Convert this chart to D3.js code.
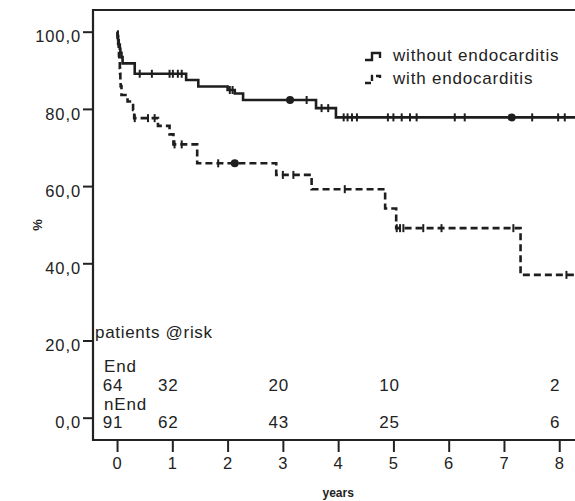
<!DOCTYPE html>
<html>
<head>
	<meta charset="utf-8">
	<title>Kaplan-Meier endocarditis</title>
	<script src="https://d3js.org/d3.v7.min.js"></script>
	<style>
		body { margin: 0; background: #fff; }
		text { font-family: "Liberation Sans", Arial, sans-serif; fill: #222; }
	</style>
</head>
<body>
	<div id="chart"></div>

	<script>
		// Survival steps (years, %)
		const nEndTimes = [0, 0.01, 0.02, 0.03, 0.05, 0.06, 0.08, 0.1, 0.32, 1.25, 1.47, 2.0, 2.13, 2.28, 3.6, 3.96];
		const nEndSurv  = [100, 98.9, 97.8, 96.7, 95.6, 94.5, 93.4, 91.8, 89.1, 87.5, 85.8, 84.9, 84.0, 82.3, 80.2, 77.8];
		const nEndCensor = [0.41, 0.63, 0.95, 1.01, 1.10, 1.17, 2.04, 2.09, 3.43, 3.70, 3.82, 4.10, 4.17, 4.25, 4.34,
			4.90, 5.0, 5.15, 5.30, 5.42, 6.11, 6.29, 7.51, 7.98, 8.10];
		const nEndDots = [3.13, 7.14];

		const endTimes = [0, 0.01, 0.02, 0.03, 0.035, 0.04, 0.05, 0.055, 0.06, 0.065, 0.08, 0.19, 0.29, 0.31, 0.74, 0.95, 1.02, 1.45, 2.88, 3.52, 4.85, 5.05, 7.3];
		const endSurv  = [100, 98.4, 96.9, 95.3, 93.8, 92.2, 90.6, 89.1, 87.5, 85.9, 83.6, 81.9, 79.7, 77.6, 75.6, 73.4, 70.8, 65.9, 62.9, 59.2, 54.2, 49.1, 37.0];
		const endCensor = [0.32, 0.56, 0.68, 1.04, 1.17, 1.83, 3.0, 3.19, 4.12, 5.06, 5.12, 5.18, 5.54, 5.87, 7.17, 8.13];
		const endDots = [2.13];

		// ticks and risk table
		const xTicks = [0, 1, 2, 3, 4, 5, 6, 7, 8];
		const yTicks = [0, 20, 40, 60, 80, 100];
		const riskYears = [0, 1, 3, 5, 8];
		const riskEnd = [64, 32, 20, 10, 2];
		const riskNEnd = [91, 62, 43, 25, 6];

		const W = 575, H = 501;
		const pLeft = 93, pRight = 575, pTop = 10, pBottom = 440;

		const svg = d3.select("#chart")
			.append("svg")
			.attr("width", W)
			.attr("height", H);

		const x = d3.scaleLinear().domain([-0.435, 8.285]).range([pLeft, pRight]);
		const y = d3.scaleLinear().domain([-5.78, 105.62]).range([pBottom, pTop]);

		// frame: left, bottom, top
		svg.append("path")
			.attr("d", `M${pRight},${pTop}H${pLeft}V${pBottom}H${pRight}`)
			.attr("fill", "none")
			.attr("stroke", "#222")
			.attr("stroke-width", 2.2);

		// axes
		const xAxis = svg.append("g")
			.attr("transform", `translate(0,${pBottom})`)
			.call(d3.axisBottom(x).tickValues(xTicks).tickSize(12).tickPadding(5).tickFormat(d3.format("d")));
		xAxis.select(".domain").remove();
		xAxis.selectAll("line").attr("stroke", "#222").attr("stroke-width", 2);
		xAxis.selectAll("text").attr("font-size", 16.5).attr("letter-spacing", 1).attr("fill", "#222")
			.attr("font-family", "Liberation Sans, Arial, sans-serif");

		const yAxis = svg.append("g")
			.attr("transform", `translate(${pLeft},0)`)
			.call(d3.axisLeft(y).tickValues(yTicks).tickSize(10).tickPadding(2).tickFormat(d => d.toFixed(1).replace(".", ",")));
		yAxis.select(".domain").remove();
		yAxis.selectAll("line").attr("stroke", "#222").attr("stroke-width", 2);
		yAxis.selectAll("text").attr("font-size", 16.5).attr("letter-spacing", 0.9).attr("fill", "#222")
			.attr("dy", "0.62em")
			.attr("font-family", "Liberation Sans, Arial, sans-serif");

		// axis titles
		svg.append("text")
			.attr("transform", `translate(42,${(pTop + pBottom) / 2}) rotate(-90)`)
			.attr("text-anchor", "middle")
			.attr("font-size", 13)
			.attr("font-weight", "bold")
			.text("%");
		svg.append("text")
			.attr("x", x(4))
			.attr("y", 497)
			.attr("text-anchor", "middle")
			.attr("font-size", 12)
			.attr("font-weight", "bold")
			.text("years");

		// curves
		const xMax = x.domain()[1];
		function stepData(times, surv) {
			const pts = times.map((t, i) => [t, surv[i]]);
			pts.push([xMax, surv[surv.length - 1]]);
			return pts;
		}
		function survAt(times, surv, t) {
			const i = d3.bisectRight(times, t) - 1;
			return surv[Math.max(0, i)];
		}
		const line = d3.line()
			.x(d => x(d[0]))
			.y(d => y(d[1]))
			.curve(d3.curveStepAfter);

		const groups = [
			{ times: nEndTimes, surv: nEndSurv, censor: nEndCensor, dots: nEndDots, dash: null },
			{ times: endTimes, surv: endSurv, censor: endCensor, dots: endDots, dash: "7,4" }
		];

		groups.forEach(g => {
			svg.append("path")
				.datum(stepData(g.times, g.surv))
				.attr("d", line)
				.attr("fill", "none")
				.attr("stroke", "#1e1e1e")
				.attr("stroke-width", 2.6)
				.attr("stroke-dasharray", g.dash);

			svg.selectAll(null)
				.data(g.censor)
				.enter()
				.append("line")
				.attr("x1", d => x(d))
				.attr("x2", d => x(d))
				.attr("y1", d => y(survAt(g.times, g.surv, d)) - 4)
				.attr("y2", d => y(survAt(g.times, g.surv, d)) + 4)
				.attr("stroke", "#1e1e1e")
				.attr("stroke-width", 2);

			svg.selectAll(null)
				.data(g.dots)
				.enter()
				.append("circle")
				.attr("cx", d => x(d))
				.attr("cy", d => y(survAt(g.times, g.surv, d)))
				.attr("r", 4)
				.attr("fill", "#1e1e1e");
		});

		// legend
		const legend = [
			{ label: "without endocarditis", y: 61, dash: null },
			{ label: "with endocarditis", y: 84, dash: "6,3" }
		];
		legend.forEach(l => {
			svg.append("path")
				.attr("d", `M365,${l.y - 1}H372V${l.y - 8}H380V${l.y - 3}`)
				.attr("fill", "none")
				.attr("stroke", "#1e1e1e")
				.attr("stroke-width", 2.4)
				.attr("stroke-dasharray", l.dash);
			svg.append("text")
				.attr("x", 393)
				.attr("y", l.y)
				.attr("font-size", 17)
				.attr("letter-spacing", 0.8)
				.text(l.label);
		});

		// patients at risk table
		svg.append("text")
			.attr("x", 95)
			.attr("y", 338)
			.attr("font-size", 17)
			.attr("letter-spacing", 0.7)
			.text("patients @risk");
		svg.append("text").attr("x", 104).attr("y", 372).attr("font-size", 17).attr("letter-spacing", 0.8).text("End");
		svg.append("text").attr("x", 104).attr("y", 410).attr("font-size", 17).attr("letter-spacing", 0.8).text("nEnd");

		[[riskEnd, 391], [riskNEnd, 428]].forEach(([vals, yy]) => {
			svg.selectAll(null)
				.data(vals)
				.enter()
				.append("text")
				.attr("x", (d, i) => x(riskYears[i]) - 4)
				.attr("y", yy)
				.attr("text-anchor", "middle")
				.attr("font-size", 17)
				.attr("letter-spacing", 0.8)
				.text(d => d);
		});
	</script>
</body>
</html>
